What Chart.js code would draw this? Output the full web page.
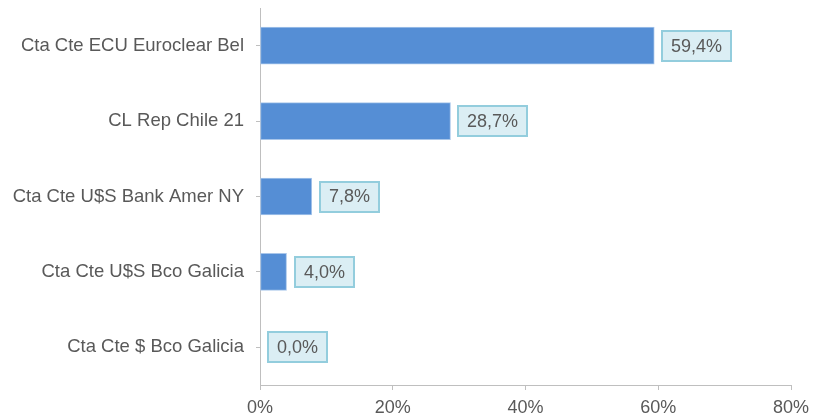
<!DOCTYPE html>
<html>
<head>
<meta charset="utf-8">
<script src="https://cdn.jsdelivr.net/npm/chart.js@4"></script>
<style>
  html, body { margin: 0; padding: 0; background: #fff; }
  #wrap { width: 825px; height: 416px; }
</style>
</head>
<body>
<div id="wrap"><canvas id="posChart"></canvas></div>
<script>
const categories = ['Cta Cte ECU Euroclear Bel', 'CL Rep Chile 21', 'Cta Cte U$S Bank Amer NY', 'Cta Cte U$S Bco Galicia', 'Cta Cte $ Bco Galicia'];
const values = [59.4, 28.7, 7.8, 4.0, 0.0];
const xTicks = [0, 20, 40, 60, 80];

const fmt = v => v.toFixed(1).replace('.', ',') + '%';
const FONT = '"Liberation Sans", Arial, sans-serif';

// boxed value labels next to each bar
const boxLabels = {
  id: 'boxLabels',
  afterDatasetsDraw(chart) {
    const ctx = chart.ctx;
    const meta = chart.getDatasetMeta(0);
    ctx.save();
    ctx.font = '18px ' + FONT;
    ctx.textBaseline = 'middle';
    meta.data.forEach((bar, i) => {
      const txt = fmt(values[i]);
      const w = Math.round(ctx.measureText(txt).width + 18);
      const h = 30;
      const x = Math.round(bar.x + 8);
      const y = Math.round(bar.y - h / 2);
      ctx.fillStyle = '#DBEEF4';
      ctx.fillRect(x, y, w, h);
      ctx.strokeStyle = '#93CDDD';
      ctx.lineWidth = 2;
      ctx.strokeRect(x, y, w, h);
      ctx.fillStyle = '#595959';
      ctx.textAlign = 'center';
      ctx.fillText(txt, x + w / 2, bar.y + 1);
    });
    ctx.restore();
  }
};

const ctx = document.getElementById('posChart').getContext('2d');
new Chart(ctx, {
  type: 'bar',
  data: {
    labels: categories,
    datasets: [{
      data: values,
      backgroundColor: '#558ED5',
      borderColor: '#A9C6EA',
      borderWidth: 1,
      borderSkipped: false,
      barThickness: 37
    }]
  },
  options: {
    indexAxis: 'y',
    responsive: true,
    maintainAspectRatio: false,
    animation: false,
    layout: { padding: { top: 8, right: 34, left: 0, bottom: 0 } },
    scales: {
      x: {
        min: 0,
        max: 80,
        afterBuildTicks: s => { s.ticks = xTicks.map(v => ({ value: v })); },
        afterFit: s => { s.height = 31; },
        grid: { drawOnChartArea: false, tickLength: 5, color: '#BFBFBF' },
        border: { color: '#BFBFBF', width: 1 },
        ticks: {
          padding: 7,
          color: '#595959',
          font: { family: FONT, size: 18 },
          callback: v => v + '%'
        }
      },
      y: {
        afterFit: s => { s.width = 260; s.paddingTop = 0; s.paddingBottom = 0; },
        grid: { drawOnChartArea: false, offset: false, tickLength: 4, color: '#BFBFBF' },
        border: { color: '#BFBFBF', width: 1 },
        ticks: {
          padding: 12,
          color: '#595959',
          font: { family: FONT, size: 18.5 }
        }
      }
    },
    plugins: {
      legend: { display: false },
      tooltip: { enabled: false }
    }
  },
  plugins: [boxLabels]
});
</script>
</body>
</html>
